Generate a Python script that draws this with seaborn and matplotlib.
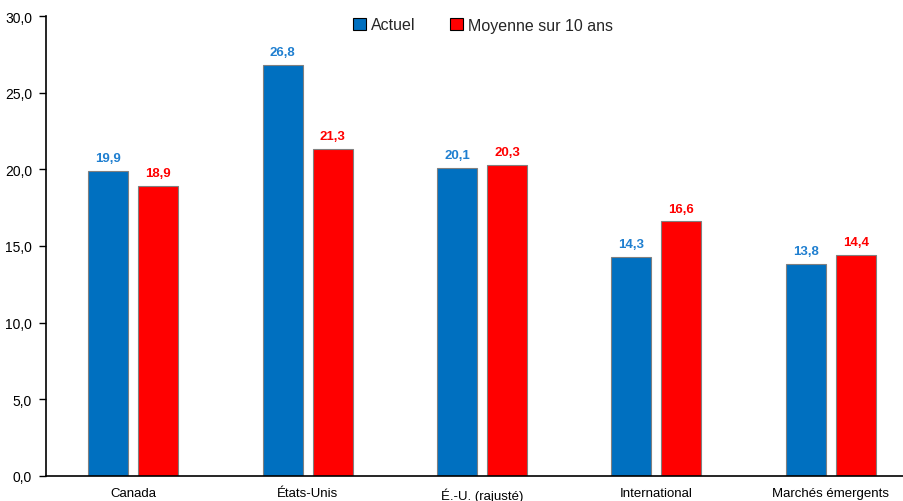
import matplotlib
matplotlib.use("Agg")
import matplotlib.pyplot as plt
import seaborn as sns
import pandas as pd
import numpy as np
from matplotlib.ticker import FuncFormatter, FixedLocator
from matplotlib.patches import Patch

categories = ["Canada", "États-Unis", "É.-U. (rajusté)", "International", "Marchés émergents"]
actuel = [19.9, 26.8, 20.1, 14.3, 13.8]
moyenne = [18.9, 21.3, 20.3, 16.6, 14.4]
series = ["Actuel", "Moyenne sur 10 ans"]
colors = ["#0070C0", "#FF0000"]
label_colors = ["#1F7FD0", "#FF0000"]

df = pd.DataFrame({
    "cat": categories * 2,
    "serie": [series[0]] * 5 + [series[1]] * 5,
    "val": actuel + moyenne,
})

sns.set_style("white")
font = ["Liberation Sans", "DejaVu Sans"]
plt.rcParams["font.family"] = font

fig = plt.figure(figsize=(9.04, 5.02), dpi=100)
ax = fig.add_axes([46/904, 25/502, 872/904, 460/502])
sns.barplot(data=df, x="cat", y="val", hue="serie", palette=colors, ax=ax,
            width=0.574, gap=0.2, edgecolor="#808080", linewidth=0.8,
            legend=False, saturation=1)

for cont, lc in zip(ax.containers, label_colors):
    ax.bar_label(cont, labels=[f"{v:.1f}".replace(".", ",") for v in cont.datavalues],
                 padding=5, color=lc, fontsize=9.5, fontweight="bold")

ax.set_xlim(-0.5, 4.5)
ax.set_ylim(0, 30)
ax.yaxis.set_major_locator(FixedLocator([0, 5, 10, 15, 20, 25, 30]))
ax.yaxis.set_major_formatter(FuncFormatter(lambda v, p: f"{v:.1f}".replace(".", ",")))
ax.set_xticks(range(5))
ax.set_xticklabels(categories)
ax.set_xticks(np.arange(-0.5, 5.0, 1.0), minor=True)
ax.tick_params(axis="x", which="major", length=0, pad=8, labelsize=9.5, colors="black")
ax.tick_params(axis="x", which="minor", length=5, width=1, direction="out", colors="black")
ax.tick_params(axis="y", length=5, width=1, direction="out", labelsize=10, left=True,
               pad=5, colors="black")
ax.set_xlabel("")
ax.set_ylabel("")
for s in ["top", "right"]:
    ax.spines[s].set_visible(False)
for s in ["left", "bottom"]:
    ax.spines[s].set_color("black")
    ax.spines[s].set_linewidth(1.2)

handles = [Patch(facecolor=c, edgecolor="black", linewidth=0.8) for c in colors]
fig.legend(handles, series, loc="center", bbox_to_anchor=(483/904, 1 - 26/502), ncol=2,
           frameon=False, fontsize=11.5, handlelength=0.8, handleheight=0.8,
           handletextpad=0.3, columnspacing=2.2)

fig.savefig("out.png", dpi=100)
